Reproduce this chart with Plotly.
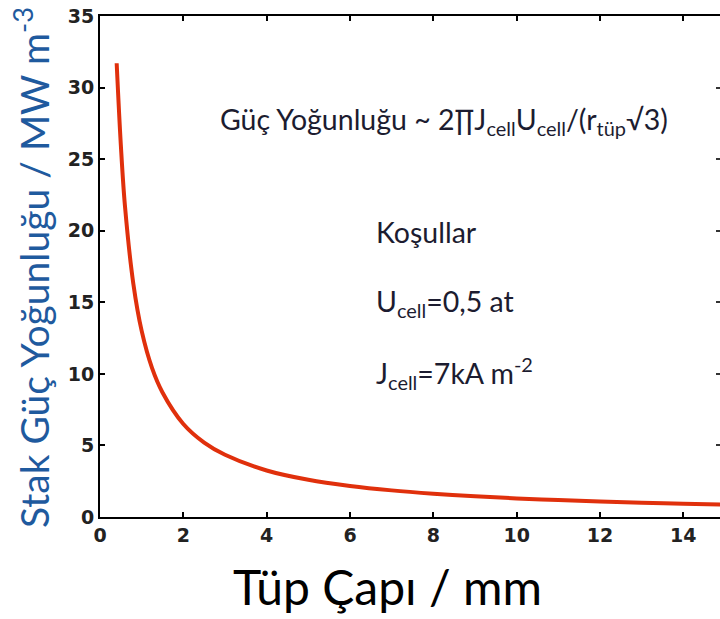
import plotly.graph_objects as go

# Data (tube diameter in mm, stack power density in MW m^-3)
tube_diameter = [0.4, 0.5, 0.6, 0.8, 1.0, 1.25, 1.5, 2.0, 2.5, 3.0, 4.0, 5.0, 6.0, 7.0,
                 8.0, 9.0, 10.0, 11.0, 12.0, 13.0, 14.0, 15.0]
power_density = [31.7, 26.0, 21.7, 16.3, 13.0, 10.4, 8.7, 6.5, 5.2, 4.35, 3.25, 2.6, 2.17,
                 1.86, 1.63, 1.45, 1.3, 1.18, 1.08, 1.0, 0.93, 0.87]

x_ticks = [0, 2, 4, 6, 8, 10, 12, 14]
y_ticks = [0, 5, 10, 15, 20, 25, 30, 35]

x_title = "Tüp Çapı / mm"
y_title = "Stak Güç Yoğunluğu / MW m<sup>-3</sup>"
formula = "Güç Yoğunluğu ~ 2∏J<sub>cell</sub>U<sub>cell</sub>/(r<sub>tüp</sub>√3)"
conditions = ["Koşullar", "U<sub>cell</sub>=0,5 at", "J<sub>cell</sub>=7kA m<sup>-2</sup>"]

W, H = 720, 619
L, R, T, B = 100, 0, 16, 102
PW, PH = W - L - R, H - T - B
X_RANGE = [0, 14.88]
Y_RANGE = [0, 35]


def px(xp):
    return (xp - L) / PW


def py(yp):
    return (H - B - yp) / PH


fig = go.Figure()
fig.add_trace(go.Scatter(x=tube_diameter, y=power_density, mode="lines",
                         line=dict(color="#e0300c", width=4, shape="spline"),
                         showlegend=False, hoverinfo="skip"))
# invisible trace so the top and right tick marks are drawn
fig.add_trace(go.Scatter(x=[0], y=[0], xaxis="x2", yaxis="y2", mode="markers",
                         marker=dict(opacity=0), showlegend=False, hoverinfo="skip"))

tick_font = dict(family="DejaVu Sans", size=19, color="#222222", weight="bold")
text_font = dict(family="Lato, Open Sans", size=28.5, color="#1c1c30")

fig.update_layout(
    width=W, height=H,
    margin=dict(l=L, r=R, t=T, b=B),
    paper_bgcolor="white", plot_bgcolor="white",
    xaxis=dict(range=X_RANGE, tickvals=x_ticks, ticks="inside", ticklen=5, tickwidth=2,
               tickcolor="black", showline=True, linecolor="black", linewidth=2,
               showgrid=False, zeroline=False, tickfont=tick_font,
               automargin=False, ticklabeloverflow="allow"),
    yaxis=dict(range=Y_RANGE, tickvals=y_ticks, ticks="inside", ticklen=5, tickwidth=2,
               tickcolor="black", showline=True, linecolor="black", linewidth=2,
               showgrid=False, zeroline=False, tickfont=tick_font, automargin=False,
               ticklabeloverflow="allow"),
    xaxis2=dict(range=X_RANGE, tickvals=x_ticks, overlaying="x", side="top",
                ticks="inside", ticklen=5, tickwidth=2, tickcolor="black",
                showline=True, linecolor="black", linewidth=2,
                showticklabels=False, showgrid=False, zeroline=False, automargin=False),
    yaxis2=dict(range=Y_RANGE, tickvals=y_ticks, overlaying="y", side="right",
                ticks="inside", ticklen=4, tickwidth=2, tickcolor="#333333",
                showticklabels=False, showline=False, showgrid=False, zeroline=False,
                automargin=False),
)

# axis titles
fig.add_annotation(x=px(387), y=py(586), xref="paper", yref="paper", text=x_title,
                   showarrow=False, xanchor="center", yanchor="middle",
                   font=dict(family="Lato, Open Sans", size=48, color="black"))
fig.add_annotation(x=px(31), y=py(268), xref="paper", yref="paper", text=y_title,
                   showarrow=False, xanchor="center", yanchor="middle", textangle=-90,
                   font=dict(family="Lato, Open Sans", size=39, color="#1f5a9e"))

# formula and conditions
fig.add_annotation(x=px(444), y=py(121), xref="paper", yref="paper", text=formula,
                   showarrow=False, xanchor="center", yanchor="middle", font=text_font)
for txt, yy in zip(conditions, [232, 303, 373]):
    fig.add_annotation(x=px(374), y=py(yy), xref="paper", yref="paper", text=txt,
                       showarrow=False, xanchor="left", yanchor="middle", font=text_font)

fig.write_html("out.html", config={"displayModeBar": False},
               post_script="document.body.style.margin='0';")
